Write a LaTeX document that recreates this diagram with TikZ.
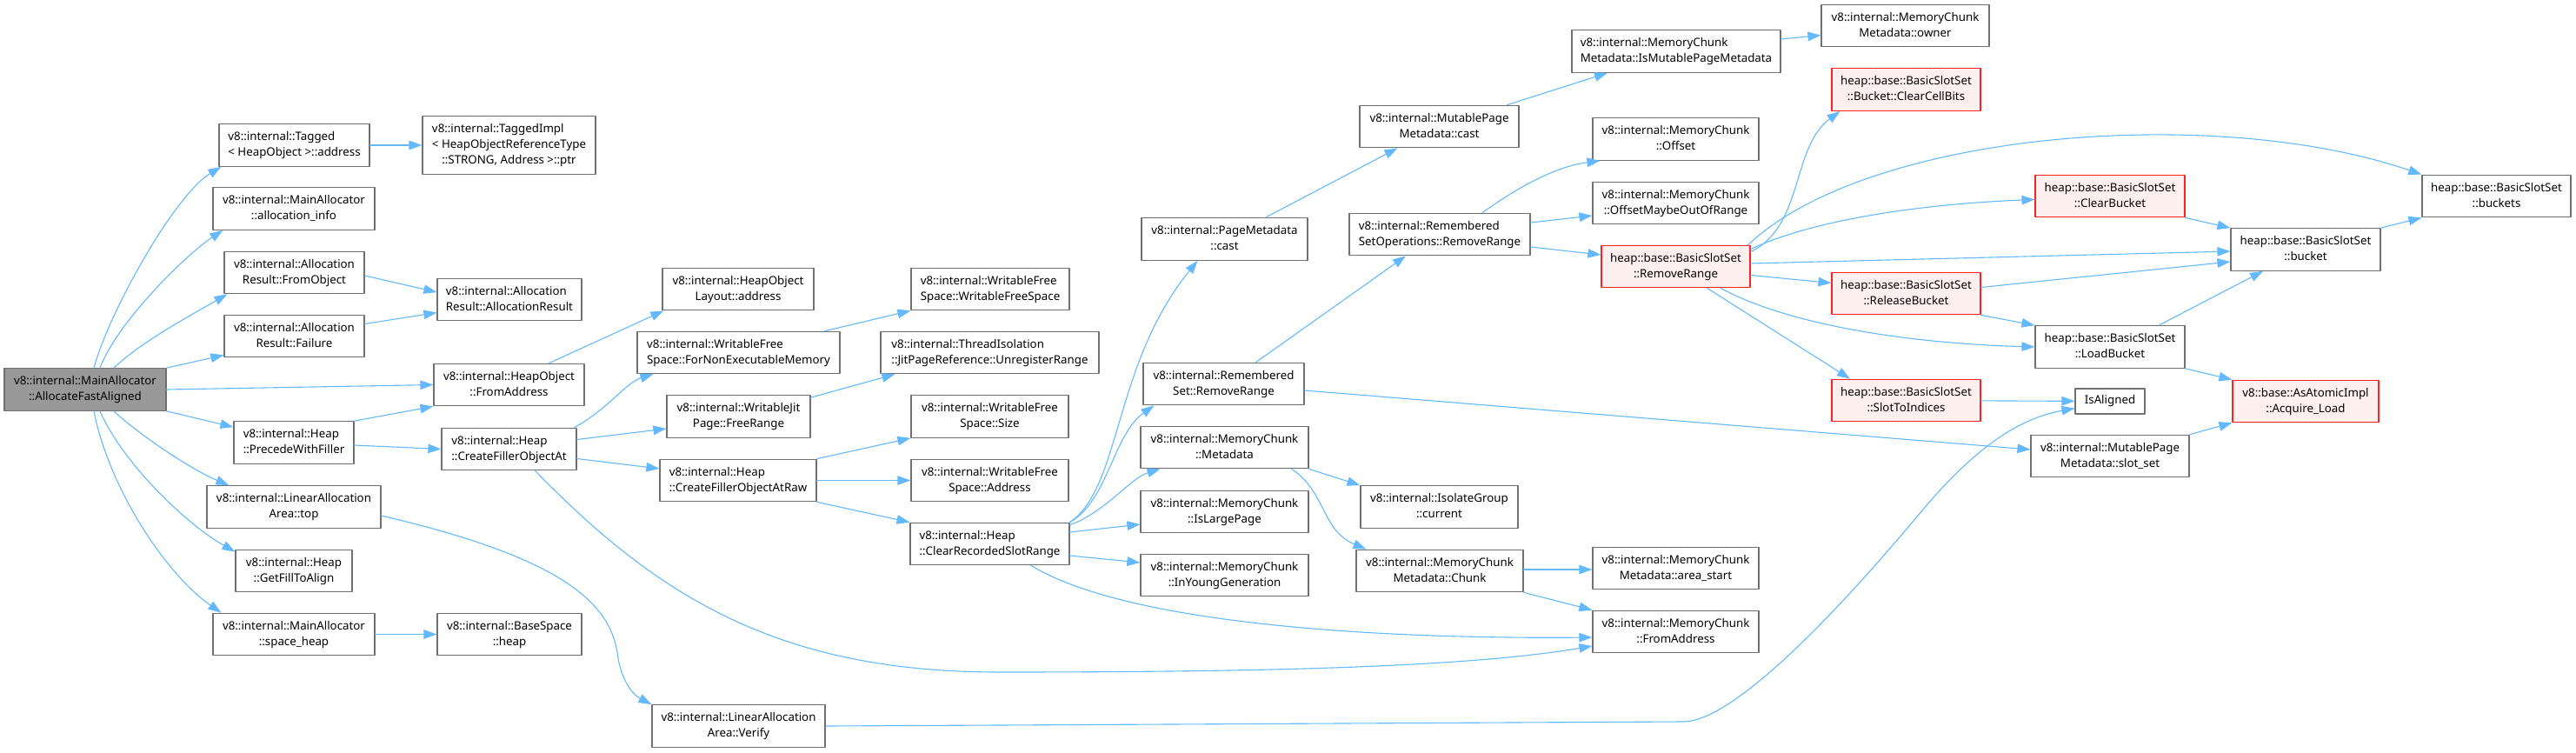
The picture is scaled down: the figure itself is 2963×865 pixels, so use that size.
\documentclass[tikz,border=0pt]{standalone}
\usepackage{fontspec}
\setmainfont{Noto Sans}
\usetikzlibrary{arrows.meta}
\definecolor{edgeblue}{HTML}{63B8FF}
\definecolor{boxgray}{HTML}{707070}
\definecolor{maingray}{HTML}{999999}
\definecolor{redline}{HTML}{FF2020}
\definecolor{redfill}{HTML}{FFF0F0}
\newcommand{\fnl}[2]{\begin{tabular}{@{}l@{}}#1\\\multicolumn{1}{@{}c@{}}{#2}\end{tabular}}
\begin{document}
\begin{tikzpicture}[x=1pt,y=-1pt,line cap=round,line join=round,
  font=\fontsize{13.3}{18.3}\selectfont,
  fn/.style={draw=boxgray,fill=white,line width=1.2pt,inner sep=0pt,minimum height=48.5pt},
  fnmain/.style={fn,fill=maingray},
  fnred/.style={fn,draw=redline,fill=redfill},
  call/.style={draw=edgeblue,line width=1.1pt,-{Triangle[length=15pt,width=10.5pt]}}]
  \useasboundingbox (0,0) rectangle (2963,865);
  % column 0 and 1
  \node[fnmain,minimum width=186] (main) at (98,448) {\fnl{v8::internal::MainAllocator}{::AllocateFastAligned}};
  \node[fn,minimum width=173] (tagged) at (338.5,167) {\fnl{v8::internal::Tagged}{< HeapObject >::address}};
  \node[fn,minimum width=186] (allocinfo) at (338,240) {\fnl{v8::internal::MainAllocator}{::allocation\_info}};
  \node[fn,minimum width=161] (fromobject) at (338.5,313.5) {\fnl{v8::internal::Allocation}{Result::FromObject}};
  \node[fn,minimum width=161] (failure) at (338.5,386.5) {\fnl{v8::internal::Allocation}{Result::Failure}};
  \node[fn,minimum width=138] (precede) at (338,509) {\fnl{v8::internal::Heap}{::PrecedeWithFiller}};
  \node[fn,minimum width=200] (latop) at (338,583) {\fnl{v8::internal::LinearAllocation}{Area::top}};
  \node[fn,minimum width=134] (getfill) at (338,656.5) {\fnl{v8::internal::Heap}{::GetFillToAlign}};
  \node[fn,minimum width=186] (spaceheap) at (338,729.5) {\fnl{v8::internal::MainAllocator}{::space\_heap}};
  % column 2
  \node[fn,minimum width=199,minimum height=67] (taggedimpl) at (585.5,167) {\fnl{v8::internal::TaggedImpl\\< HeapObjectReferenceType}{::STRONG, Address >::ptr}};
  \node[fn,minimum width=166] (allocresult) at (586,344.5) {\fnl{v8::internal::Allocation}{Result::AllocationResult}};
  \node[fn,minimum width=173] (hofromaddr) at (585.5,442.5) {\fnl{v8::internal::HeapObject}{::FromAddress}};
  \node[fn,minimum width=155] (createfiller) at (585.5,516.5) {\fnl{v8::internal::Heap}{::CreateFillerObjectAt}};
  \node[fn,minimum width=166] (baseheap) at (586,729.5) {\fnl{v8::internal::BaseSpace}{::heap}};
  % column 3 and 4
  \node[fn,minimum width=174] (holayout) at (849,332.5) {\fnl{v8::internal::HeapObject}{Layout::address}};
  \node[fn,minimum width=233] (fornonexec) at (849.5,405.5) {\fnl{v8::internal::WritableFree}{Space::ForNonExecutableMemory}};
  \node[fn,minimum width=165] (freerange) at (849.5,479) {\fnl{v8::internal::WritableJit}{Page::FreeRange}};
  \node[fn,minimum width=180] (fillerraw) at (849,552.5) {\fnl{v8::internal::Heap}{::CreateFillerObjectAtRaw}};
  \node[fn,minimum width=199] (laverify) at (849.5,835) {\fnl{v8::internal::LinearAllocation}{Area::Verify}};
  \node[fn,minimum width=182] (wfsctor) at (1139,332.5) {\fnl{v8::internal::WritableFree}{Space::WritableFreeSpace}};
  \node[fn,minimum width=251] (threadiso) at (1138.5,405.5) {\fnl{v8::internal::ThreadIsolation}{::JitPageReference::UnregisterRange}};
  \node[fn,minimum width=181] (wfssize) at (1138.5,479) {\fnl{v8::internal::WritableFree}{Space::Size}};
  \node[fn,minimum width=181] (wfsaddr) at (1138.5,552.5) {\fnl{v8::internal::WritableFree}{Space::Address}};
  \node[fn,minimum width=183] (clearslots) at (1138.5,625.5) {\fnl{v8::internal::Heap}{::ClearRecordedSlotRange}};
  % column 5 and 6
  \node[fn,minimum width=191] (pagecast) at (1408.5,275) {\fnl{v8::internal::PageMetadata}{::cast}};
  \node[fn,minimum width=185] (rsremove) at (1407.5,441.5) {\fnl{v8::internal::Remembered}{Set::RemoveRange}};
  \node[fn,minimum width=193] (mcmeta) at (1408.5,514.5) {\fnl{v8::internal::MemoryChunk}{::Metadata}};
  \node[fn,minimum width=193] (islarge) at (1408.5,588.5) {\fnl{v8::internal::MemoryChunk}{::IsLargePage}};
  \node[fn,minimum width=193] (inyoung) at (1408.5,661.5) {\fnl{v8::internal::MemoryChunk}{::InYoungGeneration}};
  \node[fn,minimum width=183] (mutcast) at (1655.5,145.5) {\fnl{v8::internal::MutablePage}{Metadata::cast}};
  \node[fn,minimum width=208] (rsopremove) at (1656,269.5) {\fnl{v8::internal::Remembered}{SetOperations::RemoveRange}};
  \node[fn,minimum width=181] (isogroup) at (1655.5,583) {\fnl{v8::internal::IsolateGroup}{::current}};
  \node[fn,minimum width=192] (mcchunk) at (1656,656.5) {\fnl{v8::internal::MemoryChunk}{Metadata::Chunk}};
  % column 7 and 8
  \node[fn,minimum width=240] (ismutable) at (1928,59) {\fnl{v8::internal::MemoryChunk}{Metadata::IsMutablePageMetadata}};
  \node[fn,minimum width=191] (mcoffset) at (1927.5,160) {\fnl{v8::internal::MemoryChunk}{::Offset}};
  \node[fn,minimum width=191] (mcoffsetmaybe) at (1927.5,233.5) {\fnl{v8::internal::MemoryChunk}{::OffsetMaybeOutOfRange}};
  \node[fnred,minimum width=171] (bssremove) at (1927.5,306.5) {\fnl{heap::base::BasicSlotSet}{::RemoveRange}};
  \node[fn,minimum width=191] (areastart) at (1927.5,653.5) {\fnl{v8::internal::MemoryChunk}{Metadata::area\_start}};
  \node[fn,minimum width=191] (mcfromaddr) at (1927.5,726.5) {\fnl{v8::internal::MemoryChunk}{::FromAddress}};
  \node[fn,minimum width=193] (owner) at (2191.5,29.5) {\fnl{v8::internal::MemoryChunk}{Metadata::owner}};
  \node[fnred,minimum width=171] (clearcell) at (2192.5,103) {\fnl{heap::base::BasicSlotSet}{::Bucket::ClearCellBits}};
  \node[fnred,minimum width=171] (releasebucket) at (2192.5,337.5) {\fnl{heap::base::BasicSlotSet}{::ReleaseBucket}};
  \node[fnred,minimum width=171] (slotidx) at (2192.5,460.5) {\fnl{heap::base::BasicSlotSet}{::SlotToIndices}};
  % column 9 to 11
  \node[fnred,minimum width=172] (clearbucket) at (2427,225.5) {\fnl{heap::base::BasicSlotSet}{::ClearBucket}};
  \node[fn,minimum width=172] (loadbucket) at (2427,399) {\fnl{heap::base::BasicSlotSet}{::LoadBucket}};
  \node[fn,minimum width=80,minimum height=29] (isaligned) at (2427,461.5) {IsAligned};
  \node[fn,minimum width=182] (slotset) at (2427,524.5) {\fnl{v8::internal::MutablePage}{Metadata::slot\_set}};
  \node[fn,minimum width=172] (bucket) at (2652,287) {\fnl{heap::base::BasicSlotSet}{::bucket}};
  \node[fnred,minimum width=168] (acquireload) at (2652,461.5) {\fnl{v8::base::AsAtomicImpl}{::Acquire\_Load}};
  \node[fn,minimum width=171] (buckets) at (2871.5,225.5) {\fnl{heap::base::BasicSlotSet}{::buckets}};

  % calls from the root
  \draw[call] ([xshift=10]main.north) .. controls (125,360) and (200,225) .. ([xshift=3]tagged.south west);
  \draw[call] ([xshift=17]main.north) .. controls (135,370) and (215,292) .. ([xshift=12]allocinfo.south west);
  \draw[call] ([xshift=33]main.north) .. controls (160,395) and (215,365) .. ([xshift=4]fromobject.south west);
  \draw[call] (main.north east) -- ([yshift=3]failure.south west);
  \draw[call] (main.east) -- (hofromaddr.west);
  \draw[call] (main.south east) -- ([yshift=-7]precede.north west);
  \draw[call] ([xshift=33]main.south) .. controls (160,500) and (220,540) .. ([xshift=26]latop.north west);
  \draw[call] ([xshift=17]main.south) .. controls (140,530) and (210,600) .. ([yshift=-3]getfill.north west);
  \draw[call] ([xshift=10]main.south) .. controls (125,560) and (190,660) .. ([xshift=10]spaceheap.north west);
  % second level
  \draw[call] (tagged) -- (taggedimpl);
  \draw[call] ([yshift=-3.5]fromobject.east) -- ([yshift=8.5]allocresult.west);
  \draw[call] ([yshift=14]failure.east) -- ([yshift=-15]allocresult.west);
  \draw[call] (precede.north east) -- (hofromaddr.south west);
  \draw[call] ([yshift=-3]precede.east) -- (createfiller.west);
  \draw[call] (spaceheap) -- (baseheap);
  \draw[call] ([yshift=-10]latop.east) .. controls (640,640) and (700,690) .. (710,750) .. controls (714,785) and (730,800) .. (laverify.north west);
  \draw[call] ([xshift=46]hofromaddr.north) -- ([xshift=2]holayout.south west);
  \draw[call] ([xshift=-3]createfiller.north east) .. controls (700,470) and (720,440) .. ([xshift=19]fornonexec.south west);
  \draw[call] ([yshift=11]createfiller.east) -- ([yshift=-14]freerange.west);
  \draw[call] ([yshift=-11]createfiller.east) -- ([yshift=13.5]fillerraw.west);
  \draw[call] ([xshift=30]createfiller.south) .. controls (760,690) and (900,773) .. (1150,773) .. controls (1500,773) and (1700,765) .. ([yshift=-16.5]mcfromaddr.west);
  % third level
  \draw[call] ([xshift=-18]fornonexec.north east) -- (wfsctor.south west);
  \draw[call] ([yshift=-3]freerange.north east) -- ([xshift=17]threadiso.south west);
  \draw[call] (fillerraw.north east) -- (wfssize.south west);
  \draw[call] (fillerraw) -- (wfsaddr);
  \draw[call] (fillerraw.south east) -- (clearslots.north west);
  \draw[call] (laverify.east) -- (1936,830) .. controls (1990,830) and (2100,720) .. (2211,587) .. controls (2280,505) and (2330,480) .. ([yshift=-8]isaligned.west);
  % slot range
  \draw[call] (clearslots.north east) .. controls (1290,560) and (1280,420) .. ([xshift=-31]pagecast.south);
  \draw[call] (clearslots.north east) .. controls (1275,575) and (1280,500) .. ([xshift=-80]rsremove.south);
  \draw[call] ([yshift=-3]clearslots.north east) .. controls (1270,590) and (1300,550) .. ([xshift=-74]mcmeta.south);
  \draw[call] ([yshift=13.5]clearslots.east) -- ([yshift=-14.5]islarge.west);
  \draw[call] ([yshift=-13.5]clearslots.east) -- ([yshift=14.5]inyoung.west);
  \draw[call] ([xshift=47.5]clearslots.south) .. controls (1300,720) and (1600,735) .. ([yshift=-6.5]mcfromaddr.west);
  \draw[call] ([xshift=47]pagecast.north) -- ([xshift=-48]mutcast.south);
  \draw[call] ([xshift=78]mutcast.north) -- ([xshift=-79]ismutable.south);
  \draw[call] ([yshift=14]ismutable.east) -- ([yshift=-11]owner.west);
  \draw[call] ([xshift=37]rsremove.north) -- ([xshift=-39]rsopremove.south);
  \draw[call] ([yshift=-7.5]rsremove.east) -- ([yshift=7.5]slotset.west);
  \draw[call] ([xshift=49]rsopremove.north) .. controls (1760,205) and (1800,190) .. ([xshift=9]mcoffset.south west);
  \draw[call] ([yshift=13.5]rsopremove.east) -- ([yshift=-14.5]mcoffsetmaybe.west);
  \draw[call] ([yshift=-14.5]rsopremove.east) -- ([yshift=13.5]bssremove.west);
  \draw[call] (mcmeta.south east) -- (isogroup.north west);
  \draw[call] ([xshift=-20]mcmeta.south east) .. controls (1525,565) and (1520,610) .. ([xshift=12]mcchunk.north west);
  \draw[call] ([yshift=1.5]mcchunk.east) -- ([yshift=-1.5]areastart.west);
  \draw[call] (mcchunk.south east) -- (mcfromaddr.north west);
  % slot set
  \draw[call] ([xshift=-3]bssremove.north east) .. controls (2150,150) and (2550,120) .. (buckets.north west);
  \draw[call] ([yshift=-8]bssremove.north east) .. controls (2075,260) and (2060,170) .. ([xshift=10]clearcell.south west);
  \draw[call] ([yshift=-5]bssremove.north east) .. controls (2080,255) and (2200,235) .. ([yshift=-4]clearbucket.west);
  \draw[call] ([yshift=3.5]bssremove.east) -- ([yshift=-2]bucket.west);
  \draw[call] ([yshift=-10]bssremove.east) -- ([yshift=12]releasebucket.west);
  \draw[call] ([xshift=51.5]bssremove.south) .. controls (2060,375) and (2200,395) .. (loadbucket.west);
  \draw[call] ([xshift=36]bssremove.south) -- ([xshift=-64.5]slotidx.north);
  \draw[call] (clearbucket.south east) -- (bucket.north west);
  \draw[call] ([yshift=7]releasebucket.east) -- ([yshift=-14]bucket.west);
  \draw[call] (releasebucket.south east) -- (loadbucket.north west);
  \draw[call] ([xshift=56]loadbucket.north) -- ([xshift=-49]bucket.south);
  \draw[call] (bucket.north east) -- (buckets.south west);
  \draw[call] (loadbucket.south east) -- (acquireload.north west);
  \draw[call] (slotset.north east) -- (acquireload.south west);
  \draw[call] (slotidx) -- (isaligned);
\end{tikzpicture}
\end{document}
